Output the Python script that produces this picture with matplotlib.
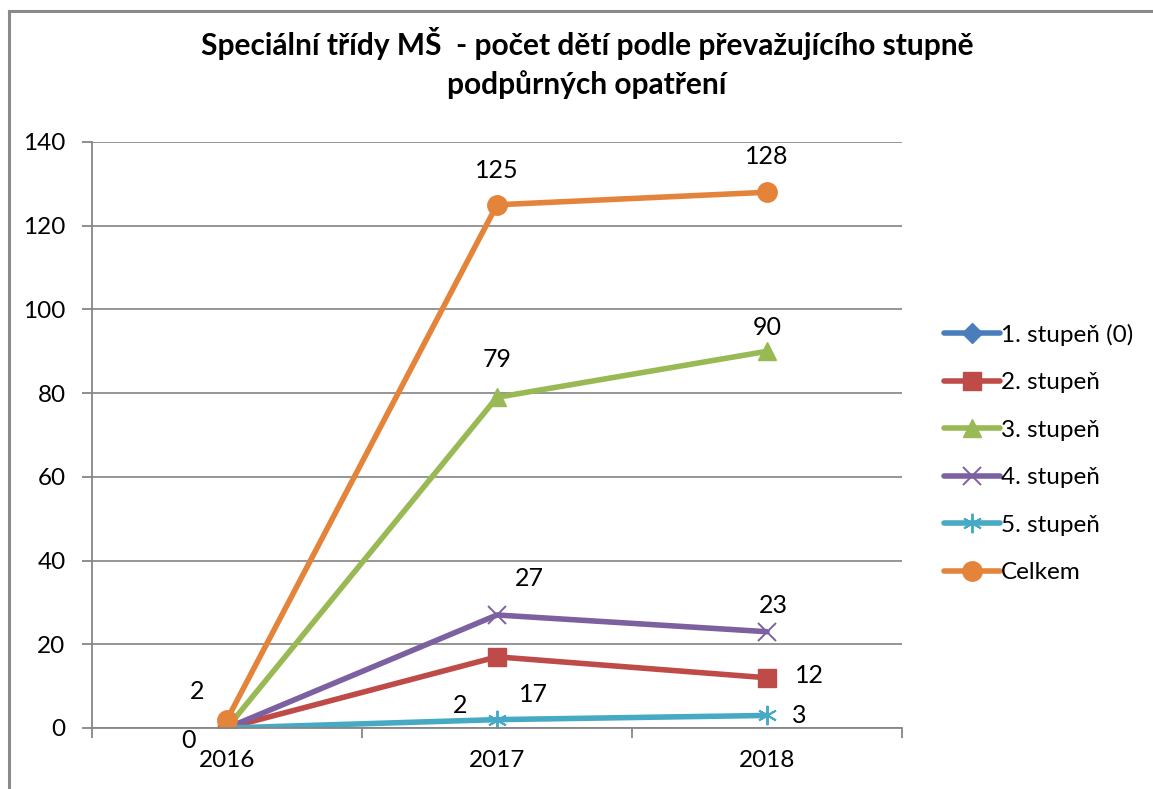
import matplotlib
matplotlib.use("Agg")
import matplotlib.pyplot as plt
import numpy as np
from matplotlib.lines import Line2D

plt.rcParams['font.family'] = ['Lato', 'DejaVu Sans']

years = ['2016', '2017', '2018']
s1 = [0, np.nan, np.nan]
s2 = [0, 17, 12]
s3 = [0, 79, 90]
s4 = [0, 27, 23]
s5 = [0, 2, 3]
celkem = [2, 125, 128]
names = ['1. stupeň (0)', '2. stupeň', '3. stupeň', '4. stupeň', '5. stupeň', 'Celkem']
title = 'Speciální třídy MŠ  - počet dětí podle převažujícího stupně\npodpůrných opatření'

W, H = 1153, 789
fig = plt.figure(figsize=(W/100, H/100), dpi=100)
# outer chart border (top and left visible)
fig.add_artist(Line2D([9/W, 1.0], [1-11/H, 1-11/H], transform=fig.transFigure,
                      color='#8a8a8a', lw=2.2))
fig.add_artist(Line2D([9/W, 9/W], [0, 1-11/H], transform=fig.transFigure,
                      color='#8a8a8a', lw=2.2))
ax = fig.add_axes([92/W, 1-728/H, (902-92)/W, (728-142)/H])

x = np.arange(len(years))
cols = ['#4A7EBB', '#BE4B48', '#98B954', '#7D60A0', '#46AAC5', '#E4843B']
series = [s1, s2, s3, s4, s5, celkem]
mk = ['D', 's', '^', 'x', (6, 2, 0), 'o']
ms = [10, 13, 13, 13, 14, 14]
for s, c, m, z, n in zip(series, cols, mk, ms, names):
    ax.plot(x, s, color=c, lw=4, marker=m, markersize=z, label=n,
            markeredgewidth=1.4 if m in ('x', (6, 2, 0)) else 1, markeredgecolor=c,
            solid_capstyle='round')

fs = 18
def lab(xi, yi, txt, dx, dy):
    ax.annotate(txt, (xi, yi), xytext=(dx, dy), textcoords='offset pixels',
                ha='center', va='center', fontsize=fs)

lab(0, celkem[0], '2', -30, 28)
lab(0, s2[0], '0', -38, -13)
lab(1, celkem[1], '125', 0, 34)
lab(2, celkem[2], '128', 0, 36)
lab(1, s3[1], '79', 0, 38)
lab(2, s3[2], '90', 0, 24)
lab(1, s4[1], '27', 32, 36)
lab(2, s4[2], '23', 6, 26)
lab(1, s2[1], '17', 36, -38)
lab(2, s2[2], '12', 42, 2)
lab(1, s5[1], '2', -37, 14)
lab(2, s5[2], '3', 32, 0)

ax.set_xlim(-0.5, 2.5)
ax.set_ylim(0, 140)
ax.set_yticks(np.arange(0, 141, 20))
ax.set_xticks(x)
ax.set_xticklabels(years)
ax.set_xticks([-0.5, 0.5, 1.5, 2.5], minor=True)
ax.tick_params(axis='x', which='major', length=0, labelsize=17.5, pad=16)
ax.tick_params(axis='x', which='minor', length=7, color='#868686', width=1.3)
ax.tick_params(axis='y', length=7, color='#868686', width=1.3, labelsize=17.5, pad=12)
ax.grid(axis='y', color='#8c8c8c', lw=1.3)
ax.set_axisbelow(True)
for sp in ['top', 'right']:
    ax.spines[sp].set_visible(False)
for sp in ['left', 'bottom']:
    ax.spines[sp].set_color('#868686')
    ax.spines[sp].set_linewidth(1.3)

fig.text(587/W, 1-63/H, title, ha='center', va='center', fontsize=21.5,
         fontweight='bold', linespacing=1.45)

leg = ax.legend(loc='upper left', bbox_to_anchor=(934/W, 1-314/H),
                bbox_transform=fig.transFigure, frameon=False, fontsize=17.5,
                handlelength=2.3, handletextpad=0.05, labelspacing=1.09,
                borderaxespad=0)

fig.savefig('out.png', dpi=100)
